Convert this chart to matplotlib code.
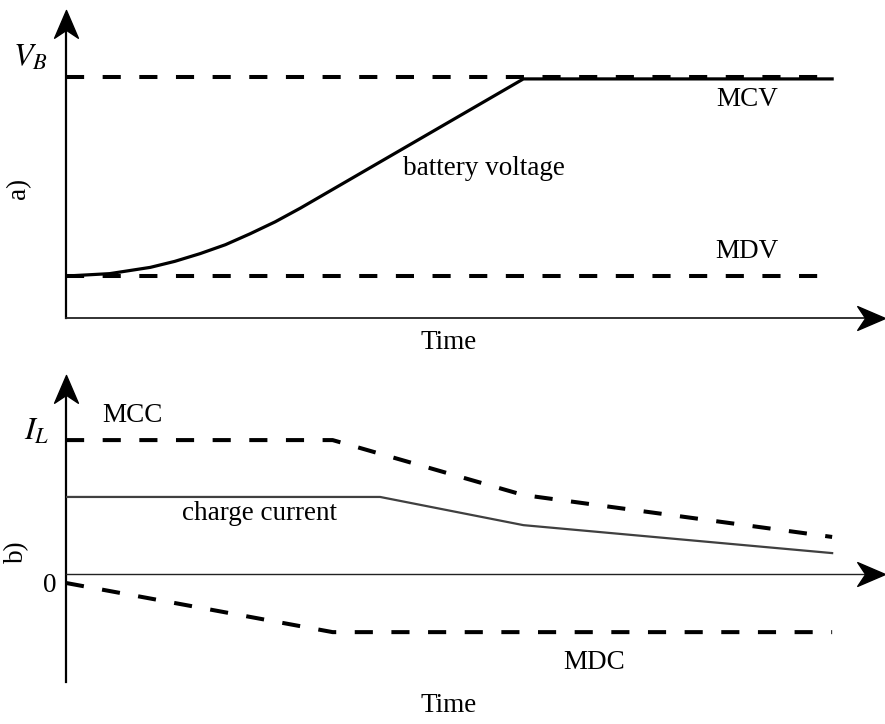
import numpy as np
import matplotlib.pyplot as plt
from matplotlib.path import Path

plt.rcParams['font.family'] = ['Liberation Serif', 'DejaVu Serif']
plt.rcParams['mathtext.fontset'] = 'stix'

# a) tension de bateria (tiempo en unidades arbitrarias)
t_bat = [0, 0.57, 1.10, 1.42, 1.75, 2.08, 2.40, 2.73, 3.06, 5.97, 10.0]
v_bat = [1.74, 1.84, 2.10, 2.35, 2.67, 3.04, 3.49, 3.99, 4.56, 9.92, 9.92]
t_lim_v = [0, 10.0]
v_mcv = 10.0
v_mdv = 1.74

# b) corriente de carga y limites
t_mcc = [0, 3.48, 5.97, 10.0]
i_mcc = [5.56, 5.56, 3.28, 1.54]
t_carga = [0, 4.10, 5.97, 10.0]
i_carga = [3.20, 3.20, 2.03, 0.87]
t_mdc = [0, 3.48, 10.0]
i_mdc = [-0.37, -2.41, -2.41]

# punta de flecha tipo "stealth", con la punta en el origen
flecha_der = Path([(0, 0), (-28, 12), (-20, 0), (-28, -12), (0, 0)],
                  [Path.MOVETO, Path.LINETO, Path.LINETO, Path.LINETO, Path.CLOSEPOLY])
flecha_arr = Path([(0, 0), (-12, -28), (0, -20), (12, -28), (0, 0)],
                  [Path.MOVETO, Path.LINETO, Path.LINETO, Path.LINETO, Path.CLOSEPOLY])

dash = dict(color='k', lw=2.9, dashes=(4.5, 4.6), solid_capstyle='butt')
fs = 19.5
fs_mat = 23


def ejes(ax, x_max, y_min, y_max, y_cero, lw_x):
    ax.plot([0, 0], [y_min, y_max - 0.3], color='k', lw=1.6, clip_on=False)
    ax.plot([0, x_max - 0.2], [y_cero, y_cero], color='#222222', lw=lw_x, clip_on=False)
    ax.plot([x_max], [y_cero], marker=flecha_der, ms=40, color='k', clip_on=False)
    ax.plot([0], [y_max], marker=flecha_arr, ms=40, color='k', clip_on=False)


fig = plt.figure(figsize=(8.85, 7.24), dpi=100)

# ---- a) ----
ax1 = fig.add_axes([0.0746, 0.5608, 0.9254, 0.4254])
ax1.set_xlim(0, 10.69)
ax1.set_ylim(0, 12.78)
ax1.axis('off')
ejes(ax1, 10.69, 0, 12.78, 0, 1.3)
ax1.plot(t_lim_v, [v_mcv, v_mcv], **dash)
ax1.plot(t_lim_v, [v_mdv, v_mdv], **dash)
ax1.plot(t_bat, v_bat, color='k', lw=2.3)
ax1.text(-0.47, 10.79, r'$V_B$', fontsize=fs_mat, ha='center', va='center')
ax1.text(-0.62, 5.39, 'a)', fontsize=fs, ha='center', va='center', rotation=90)
ax1.text(8.89, 9.05, 'MCV', fontsize=fs, ha='center', va='center')
ax1.text(8.89, 2.74, 'MDV', fontsize=fs, ha='center', va='center')
ax1.text(5.46, 6.22, 'battery voltage', fontsize=fs, ha='center', va='center')
ax1.text(4.99, -1.0, 'Time', fontsize=fs, ha='center', va='center')

# ---- b) ----
ax2 = fig.add_axes([0.0746, 0.058, 0.9254, 0.424])
ax2.set_xlim(0, 10.69)
ax2.set_ylim(-4.48, 8.26)
ax2.axis('off')
ejes(ax2, 10.69, -4.48, 8.26, 0, 1.0)
ax2.plot(t_mcc, i_mcc, **dash)
ax2.plot(t_mdc, i_mdc, **dash)
ax2.plot(t_carga, i_carga, color='#404040', lw=1.6)
ax2.text(-0.38, 5.89, r'$I_L$', fontsize=fs_mat, ha='center', va='center')
ax2.text(-0.64, 0.91, 'b)', fontsize=fs, ha='center', va='center', rotation=90)
ax2.text(-0.21, -0.46, '0', fontsize=fs, ha='center', va='center')
ax2.text(0.87, 6.60, 'MCC', fontsize=fs, ha='center', va='center')
ax2.text(2.52, 2.53, 'charge current', fontsize=fs, ha='center', va='center')
ax2.text(6.89, -3.69, 'MDC', fontsize=fs, ha='center', va='center')
ax2.text(4.99, -5.44, 'Time', fontsize=fs, ha='center', va='center')

fig.savefig('out.png', dpi=100)
